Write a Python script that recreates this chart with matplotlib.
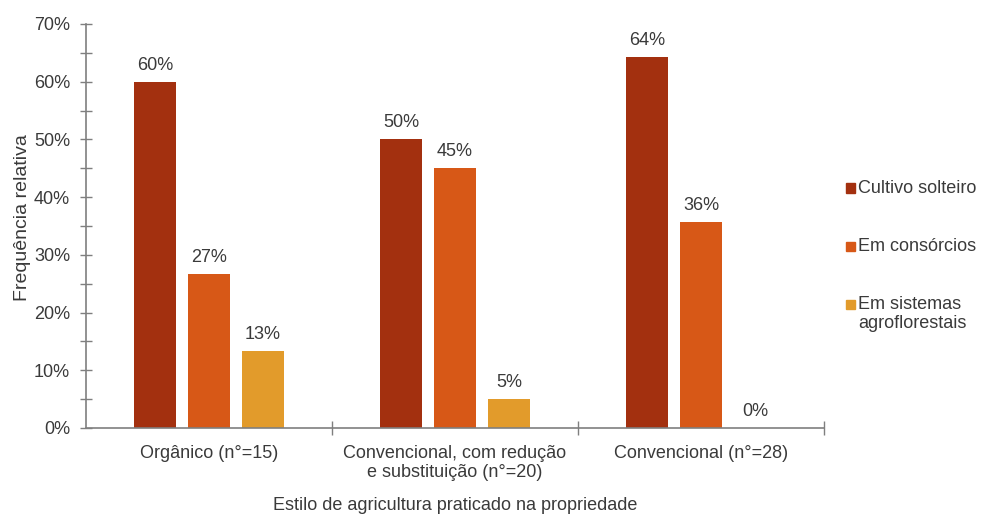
import matplotlib
matplotlib.use("Agg")
import matplotlib.pyplot as plt
import numpy as np
from matplotlib.patches import Rectangle
from matplotlib.ticker import MultipleLocator, FuncFormatter

plt.rcParams['font.family'] = ['Liberation Sans', 'DejaVu Sans']

categories = ["Orgânico (n°=15)",
              "Convencional, com redução\ne substituição (n°=20)",
              "Convencional (n°=28)"]
series_names = ["Cultivo solteiro", "Em consórcios", "Em sistemas\nagroflorestais"]
cultivo_solteiro = [60.0, 50.0, 64.29]
em_consorcios = [26.67, 45.0, 35.71]
agroflorestais = [13.33, 5.0, 0.0]
value_labels = [["60%", "50%", "64%"],
                ["27%", "45%", "36%"],
                ["13%", "5%", "0%"]]
colors = ["#A3300F", "#D75817", "#E29B2B"]

series = [cultivo_solteiro, em_consorcios, agroflorestais]
text_color = "#3a3a3a"
axis_color = "#7f7f7f"
fs = 13

fig = plt.figure(figsize=(9.81, 5.2), dpi=100)
ax = fig.add_axes([86/981, 1 - 428/520, (824 - 86)/981, (428 - 24)/520])

x = np.arange(len(categories))
pitch = 0.22
width = 0.172
for i, (vals, col) in enumerate(zip(series, colors)):
    pos = x + (i - 1) * pitch
    ax.bar(pos, vals, width=width, color=col, zorder=2)
    for p, v, lab in zip(pos, vals, value_labels[i]):
        ax.annotate(lab, (p, v), xytext=(0, 12), textcoords="offset points",
                    ha="center", va="center", fontsize=fs, color=text_color)

ax.set_xlim(-0.5, 2.5)
ax.set_ylim(0, 70)

ax.yaxis.set_major_locator(MultipleLocator(10))
ax.yaxis.set_minor_locator(MultipleLocator(5))
ax.yaxis.set_major_formatter(FuncFormatter(lambda v, _: f"{v:.0f}%"))
ax.tick_params(axis="y", which="both", direction="inout", length=9, width=1,
               color=axis_color, labelsize=fs, labelcolor=text_color, pad=7)

ax.set_xticks(x)
ax.set_xticklabels(categories)
ax.set_xticks([0.5, 1.5, 2.5], minor=True)
ax.tick_params(axis="x", which="major", length=0, labelsize=fs,
               labelcolor=text_color, pad=12)
ax.tick_params(axis="x", which="minor", direction="inout", length=10, width=1,
               color=axis_color)

for s in ["top", "right"]:
    ax.spines[s].set_visible(False)
for s in ["left", "bottom"]:
    ax.spines[s].set_color(axis_color)
    ax.spines[s].set_linewidth(1.2)

ax.set_ylabel("Frequência relativa", fontsize=14, color=text_color)
ax.yaxis.set_label_coords(-0.074, 0.52)
fig.text(455/981, 1 - 505/520, "Estilo de agricultura praticado na propriedade",
         ha="center", va="center", fontsize=fs, color=text_color)

# legend: square marker aligned with the first line of each entry
W, H = 981, 520
legend_rows = [188, 246, 304]
for name, col, yc in zip(series_names, colors, legend_rows):
    fig.patches.append(Rectangle(((846) / W, 1 - (yc + 4.5) / H), 9 / W, 9 / H,
                                 transform=fig.transFigure, color=col))
    fig.text(858 / W, 1 - (yc - 8) / H, name, ha="left", va="top",
             fontsize=fs, color=text_color, linespacing=1.15)

fig.savefig("out.png", dpi=100)
